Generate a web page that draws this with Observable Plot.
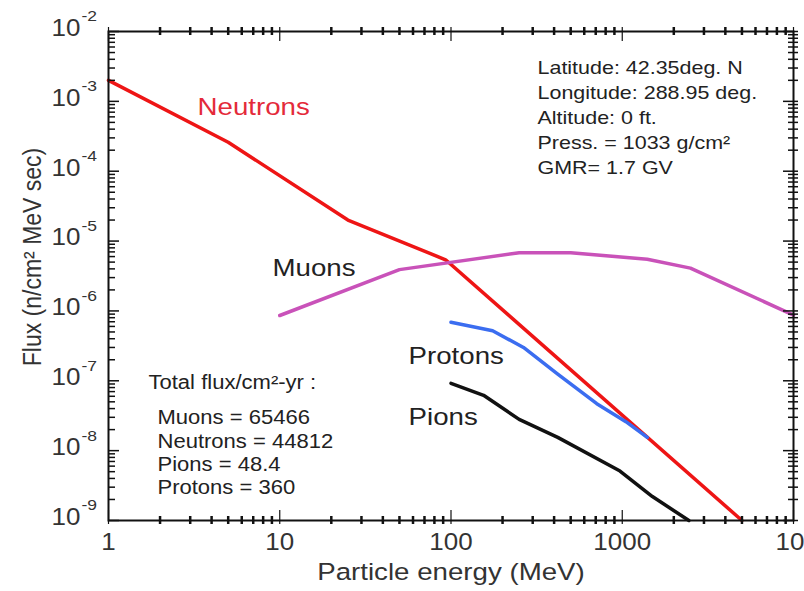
<!DOCTYPE html>
<html><head><meta charset="utf-8">
<script src="https://cdn.jsdelivr.net/npm/d3@7"></script>
<script src="https://cdn.jsdelivr.net/npm/@observablehq/plot@0.6"></script>
<style>body{margin:0;background:#fff} svg{display:block}</style>
</head><body><div id="chart"></div>
<script>
// ---- data (energy MeV, flux n/cm2 MeV sec) ----
const neutrons = [[1,2.0e-3],[5,2.6e-4],[25,2.0e-5],[93,5.4e-6],[5000,1.0e-9]];
const muons = [[10,8.6e-7],[50,3.9e-6],[250,6.8e-6],[500,6.8e-6],[1400,5.5e-6],[2500,4.1e-6],[10000,8.7e-7]];
const protons = [[100,6.9e-7],[175,5.2e-7],[265,3.0e-7],[420,1.25e-7],[710,4.7e-8],[1050,2.6e-8],[1400,1.55e-8]];
const pions = [[100,9.2e-8],[155,6.2e-8],[250,2.8e-8],[420,1.55e-8],[970,5.1e-9],[1500,2.2e-9],[2450,1.0e-9]];

const xMajor = [1,10,100,1000,10000];
const xTickLabels = ["1","10","100","1000","10000"];
const yMajor = [1e-9,1e-8,1e-7,1e-6,1e-5,1e-4,1e-3,1e-2];
const yExponents = ["-9","-8","-7","-6","-5","-4","-3","-2"];

const curveLabels = [
  {text:"Neutrons", e:3.31, f:8.2e-4, color:"#e42a3a"},
  {text:"Muons", e:9.07, f:4.1e-6, color:"#222"},
  {text:"Protons", e:56.5, f:2.23e-7, color:"#222"},
  {text:"Pions", e:56.5, f:3.0e-8, color:"#222"}
];
const siteInfo = ["Latitude: 42.35deg. N","Longitude: 288.95 deg.","Altitude: 0 ft.","Press. = 1033 g/cm²","GMR= 1.7 GV"];
const siteAnchor = {e:320, f:6.2e-4};
const totalsTitle = "Total flux/cm²-yr :";
const totalsTitleAnchor = {e:1.712, f:9.46e-8};
const totals = ["Muons = 65466","Neutrons = 44812","Pions = 48.4","Protons = 360"];
const totalsAnchor = {e:1.932, f:0.96e-8};
const xTitle = "Particle energy (MeV)";
const yTitle = "Flux (n/cm² MeV sec)";

// ---- layout ----
const W=804, H=591, mL=108, mR=11, mT=31, mB=71;
const pw = W-mL-mR, ph = H-mT-mB;
const font = "'Liberation Sans', Arial, Helvetica, sans-serif";
const ink = "#222";

const series = [
  {pts: neutrons, color:"#ee1515"},
  {pts: muons, color:"#c952b9"},
  {pts: protons, color:"#3b6df0"},
  {pts: pions, color:"#111111"}
];

const minorOf = (majors) => majors.slice(0,-1).flatMap(d => [2,3,4,5,6,7,8,9].map(k => k*d));
const xMinor = minorOf(xMajor);
const yMinor = minorOf(yMajor);
const xLab = xMajor.map((v,i)=>({v, t:xTickLabels[i]}));
const yLab = yMajor.map((v,i)=>({v, t:yExponents[i]}));

const chart = Plot.plot({
  width: W, height: H,
  marginLeft: mL, marginRight: mR, marginTop: mT, marginBottom: mB,
  style: {fontFamily: font, background: "#fff", color: ink, overflow: "hidden"},
  x: {type: "log", domain: [1, 10000], axis: null},
  y: {type: "log", domain: [1e-9, 1e-2], axis: null},
  marks: [
    ...series.map(s => Plot.line(s.pts, {x: d=>d[0], y: d=>d[1], stroke: s.color, strokeWidth: 3.5, strokeLinejoin: "round", strokeLinecap: "round"})),
    Plot.frame({stroke: "#111", strokeWidth: 2}),
    // bottom ticks
    Plot.tickX(xMinor, {x: d=>d, stroke:"#111", strokeWidth: 2.5, insetTop: ph-4, insetBottom: -4}),
    Plot.tickX(xMajor, {x: d=>d, stroke:"#111", strokeWidth: 1.2, insetTop: ph-10, insetBottom: -4}),
    // top ticks
    Plot.tickX(xMinor, {x: d=>d, stroke:"#111", strokeWidth: 2.5, insetTop: -4, insetBottom: ph-4}),
    Plot.tickX(xMajor, {x: d=>d, stroke:"#111", strokeWidth: 1.2, insetTop: -4, insetBottom: ph-10}),
    // left ticks
    Plot.tickY(yMinor, {y: d=>d, stroke:"#111", strokeWidth: 1.5, insetLeft: 0, insetRight: pw-7}),
    Plot.tickY(yMajor, {y: d=>d, stroke:"#111", strokeWidth: 1.5, insetLeft: 0, insetRight: pw-11}),
    // right ticks
    Plot.tickY(yMinor, {y: d=>d, stroke:"#111", strokeWidth: 1.5, insetLeft: pw-5, insetRight: -5}),
    Plot.tickY(yMajor, {y: d=>d, stroke:"#111", strokeWidth: 1.5, insetLeft: pw-10, insetRight: -5}),
    // x tick labels
    Plot.text(xLab.slice(0,-1), {x: "v", frameAnchor: "bottom", text: "t", lineAnchor: "middle", textAnchor: "middle", dy: 22, fontSize: 23, fill: "#333"}),
    Plot.text(xLab.slice(-1), {x: "v", frameAnchor: "bottom", text: "t", lineAnchor: "middle", dy: 22, dx: -18, textAnchor: "start", fontSize: 23, fill: "#333"}),
    // y tick labels
    Plot.text(yLab, {y: "v", frameAnchor: "left", text: () => "10", lineAnchor: "middle", textAnchor: "end", dx: -28, dy: -3, fontSize: 23, fill: "#333"}),
    Plot.text(yLab, {y: "v", frameAnchor: "left", text: "t", lineAnchor: "middle", textAnchor: "start", dx: -27, dy: -15, fontSize: 15.5, fill: "#333"}),
    // axis titles
    Plot.text([xTitle], {frameAnchor: "bottom", text: d=>d, lineAnchor: "middle", textAnchor: "middle", dy: 52, fontSize: 24.5, fill: "#333"}),
    Plot.text([yTitle], {frameAnchor: "left", text: d=>d, rotate: -90, lineAnchor: "middle", textAnchor: "middle", dx: -76, dy: -19, fontSize: 23, fill: "#333"}),
    // curve labels
    Plot.text(curveLabels, {x: "e", y: "f", text: "text", fill: "color", textAnchor: "start", lineAnchor: "middle", fontSize: 24.5}),
    // annotations
    Plot.text([siteInfo.join("\n")], {x: () => siteAnchor.e, y: () => siteAnchor.f, text: d=>d, textAnchor: "start", lineAnchor: "middle", fontSize: 19, lineHeight: 1.32, fill: ink}),
    Plot.text([totalsTitle], {x: () => totalsTitleAnchor.e, y: () => totalsTitleAnchor.f, text: d=>d, textAnchor: "start", lineAnchor: "middle", fontSize: 19.5, fill: ink}),
    Plot.text([totals.join("\n")], {x: () => totalsAnchor.e, y: () => totalsAnchor.f, text: d=>d, textAnchor: "start", lineAnchor: "middle", fontSize: 19.5, lineHeight: 1.2, fill: ink})
  ]
});

// horizontal stretch of text to match the reference's wide lettering
const S = 1.13;
chart.querySelectorAll("text").forEach(t => {
  const tr = t.getAttribute("transform");
  if (tr && /^translate\([^)]*\)/.test(tr)) {
    t.setAttribute("transform", tr.replace(/^(translate\([^)]*\))/, `$1 scale(${S},1)`));
  } else {
    const x = +(t.getAttribute("x") || 0), y = +(t.getAttribute("y") || 0);
    t.setAttribute("transform", `translate(${x},${y}) scale(${S},1) translate(${-x},${-y})` + (tr ? " " + tr : ""));
  }
});
document.getElementById("chart").appendChild(chart);
</script>
</body></html>
